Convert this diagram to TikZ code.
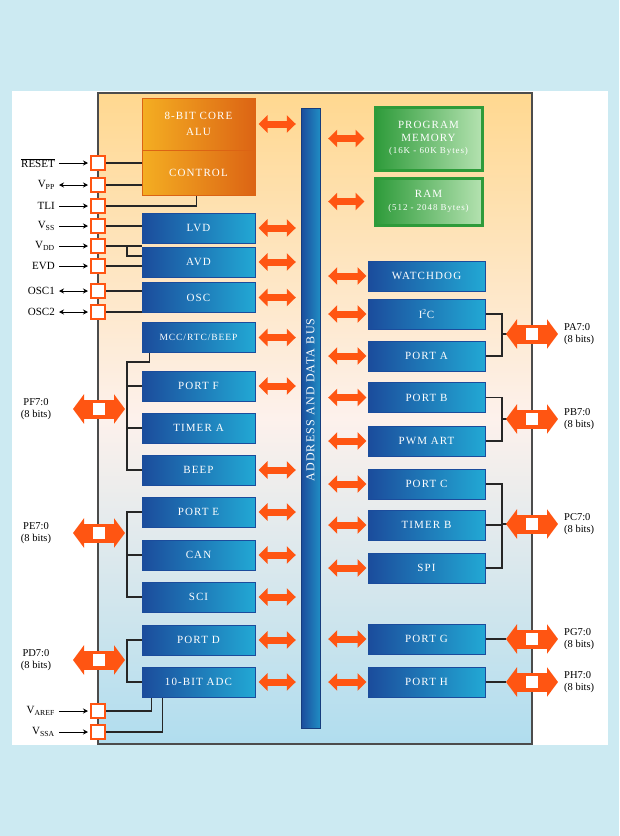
\documentclass[tikz,border=0pt]{standalone}
\usepackage{fontspec}
\setmainfont{Liberation Serif}
\newfontfamily\blkfont[LetterSpace=10]{Liberation Serif}
\usetikzlibrary{arrows.meta,calc}
\definecolor{bgblue}{HTML}{CCEAF2}
\definecolor{arrowor}{HTML}{FF5512}
\definecolor{blkdark}{HTML}{1B4C9C}
\definecolor{blklight}{HTML}{22A8D4}
\definecolor{chiptop}{HTML}{FFD890}
\definecolor{chipmid}{HTML}{FDF1EC}
\definecolor{chipbot}{HTML}{B0DDEE}
\definecolor{grdark}{HTML}{2E9B3A}
\definecolor{grlight}{HTML}{B4E2B0}
\definecolor{coreA}{HTML}{F4AE22}
\definecolor{coreB}{HTML}{DC6414}
\tikzset{
  chipbody/.style={draw=black!70,line width=1.5pt,top color=chiptop,bottom color=chipbot,
    middle color=chipmid,minimum width=434pt,minimum height=651pt,inner sep=0pt},
  busbar/.style={draw=blkdark!80!black,left color=blkdark,right color=blklight!70!blkdark,
    minimum width=19pt,minimum height=620pt,inner sep=0pt},
  blueblk/.style={draw=blkdark,line width=1pt,left color=blkdark,right color=blklight,
    text=white,font=\blkfont\fontsize{11}{12}\selectfont,minimum width=113pt,minimum height=30pt,inner sep=0pt},
  coreblk/.style={blueblk,draw=coreB,left color=coreA,right color=coreB},
  memblk/.style={blueblk,draw=grdark,line width=3pt,left color=grdark,right color=grlight,
    minimum width=107pt,align=center,font=\blkfont\fontsize{11}{12.5}\selectfont},
  busarrow/.style={draw=arrowor,line width=7pt,{Triangle[length=9pt,width=17pt]}-{Triangle[length=9pt,width=17pt]}},
  portarrow/.style={draw=arrowor,line width=19pt,{Triangle[length=11pt,width=29pt]}-{Triangle[length=11pt,width=29pt]}},
  portsq/.style={fill=white,minimum size=12pt,inner sep=0pt},
  pinsq/.style={draw=arrowor,line width=2pt,fill=white,minimum size=14pt,inner sep=0pt},
  pinlbl/.style={anchor=east,font=\fontsize{11}{12}\selectfont,inner sep=1pt},
  portlbl/.style={align=center,font=\fontsize{10.5}{12.5}\selectfont,inner sep=0pt},
  pinin/.style={line width=1pt,shorten <=3pt,shorten >=2pt,-{Stealth[length=5pt,width=5pt]}},
  pinio/.style={line width=1pt,shorten <=3pt,shorten >=2pt,{Stealth[length=5pt,width=5pt]}-{Stealth[length=5pt,width=5pt]}},
  wire/.style={line width=1.3pt,black!85}
}
\newcommand{\portio}[3]{%
  % name, x, y of the white square on the chip edge
  \coordinate (#1) at (#2,#3);
  \draw[portarrow] ([xshift=-26pt]#1) -- ([xshift=26pt]#1);
  \node[portsq] (#1sq) at (#1) {};
}

\begin{document}
\begin{tikzpicture}[x=1pt,y=-1pt]
  \useasboundingbox (0,0) rectangle (619,836);
  \fill[bgblue] (0,0) rectangle (619,836);
  \fill[white] (12,91) rectangle (608,745);
  \node[chipbody] (chip) at (315,418.5) {};
  \node[busbar] (bus) at (310.5,418) {};
  \node[rotate=90,text=white,font=\blkfont\fontsize{12}{12}\selectfont] (buslbl) at (310.5,400) {ADDRESS AND DATA BUS};

  \node[coreblk,minimum height=52pt,align=center,font=\blkfont\fontsize{11}{16}\selectfont] (core) at (198.5,124) {8-BIT CORE\\ALU};
  \node[coreblk,minimum height=45pt] (ctrl) at (198.5,172.5) {CONTROL};
  \node[memblk,minimum height=63pt] (prog) at (428.5,138.5) {PROGRAM\\MEMORY\\{\fontsize{9}{11}\selectfont(16K - 60K Bytes)}};
  \node[memblk,minimum height=47pt] (ram) at (428.5,201.5) {RAM\\{\fontsize{9}{11}\selectfont(512 - 2048 Bytes)}};
  \foreach \n/\t/\y in {lvd/LVD/228,avd/AVD/262,osc/OSC/297.5,mcc/{\fontsize{9.5}{10}\selectfont MCC/RTC/BEEP}/337.5,
      portf/PORT F/386,timera/TIMER A/428,beep/BEEP/470,porte/PORT E/512,can/CAN/555,sci/SCI/597,
      portd/PORT D/640,adc/10-BIT ADC/682}
    \node[blueblk] (\n) at (198.5,\y) {\t};
  \foreach \n/\t/\y in {wdog/WATCHDOG/276,iic/I\textsuperscript{2}C/314,porta/PORT A/356,portb/PORT B/397.5,
      pwm/PWM ART/441,portc/PORT C/484,timerb/TIMER B/525,spi/SPI/568,portg/PORT G/639,porth/PORT H/682}
    \node[blueblk,minimum width=117pt] (\n) at (426.5,\y) {\t};

  % bus connections
  \foreach \n in {core,lvd,avd,osc,mcc,portf,beep,porte,can,sci,portd,adc}
    \draw[busarrow,shorten <=3pt,shorten >=5pt] (\n.east) -- (\n.east -| bus.west);
  \foreach \n in {wdog,iic,porta,portb,pwm,portc,timerb,spi,portg,porth}
    \draw[busarrow,shorten <=8pt,shorten >=1pt] (\n.west -| bus.east) -- (\n.west);
  \foreach \n in {prog,ram}
    \draw[busarrow,shorten <=8pt,shorten >=9pt] (\n.west -| bus.east) -- (\n.west);

  % supply and control pins
  \foreach \n/\t/\y/\s in {rst/{$\overline{\hbox{RESET}}$}/163/pinin,vpp/{V\textsubscript{PP}}/185/pinio,
      tli/TLI/206/pinin,vss/{V\textsubscript{SS}}/226/pinin,vdd/{V\textsubscript{DD}}/246/pinin,
      evd/EVD/266/pinin,osca/OSC1/291/pinio,oscb/OSC2/312/pinio,
      vref/{V\textsubscript{AREF}}/711/pinin,vssa/{V\textsubscript{SSA}}/732/pinin}{
    \node[pinlbl] (\n-l) at (56,\y) {\t};
    \node[pinsq] (\n) at (98,\y) {};
    \draw[\s] (\n-l.east) -- (\n.west);
  }
  \draw[wire] (rst.east) -- (rst.east -| ctrl.west);
  \draw[wire] (vpp.east) -- (vpp.east -| ctrl.west);
  \draw[wire] (tli.east) -| ([xshift=-2pt]ctrl.south);
  \draw[wire] (vss.east) -- (vss.east -| lvd.west);
  \coordinate (vddk) at (127,246);
  \draw[wire] (vdd.east) -- (vdd.east -| lvd.west);
  \draw[wire] (vddk) |- ([yshift=6pt]avd.west);
  \draw[wire] (evd.east) -- (evd.east -| avd.west);
  \draw[wire] (osca.east) -- (osca.east -| osc.west);
  \draw[wire] (oscb.east) -- (oscb.east -| osc.west);
  \draw[wire] (vref.east) -| ([xshift=10pt]adc.south west);
  \draw[wire] (vssa.east) -| ([xshift=21pt]adc.south west);

  % port groups
  \coordinate (lbar) at (127,0);
  \coordinate (rbar) at (502,0);
  \draw[wire] ([xshift=8pt]mcc.south west) -- ++(0,9) -| (lbar |- beep.west) -- (beep.west);
  \foreach \n in {portf,timera}
    \draw[wire] (lbar |- \n.west) -- (\n.west);
  \draw[wire] (porte.west) -| (lbar |- sci.west) -- (sci.west);
  \draw[wire] (lbar |- can.west) -- (can.west);
  \draw[wire] (portd.west) -| (lbar |- adc.west) -- (adc.west);
  \draw[wire] (iic.east) -| (rbar |- porta.east) -- (porta.east);
  \draw[wire] (portb.east) -| (rbar |- pwm.east) -- (pwm.east);
  \draw[wire] (portc.east) -| (rbar |- spi.east) -- (spi.east);
  \draw[wire] (timerb.east) -- (rbar |- timerb.east);

  \portio{pf}{99}{409}
  \portio{pe}{99}{533}
  \portio{pd}{99}{660}
  \draw[wire] (rbar |- 0,334) -- (507,334);
  \portio{pa}{532}{334}
  \draw[wire] (rbar |- 0,419) -- (507,419);
  \portio{pb}{532}{419}
  \draw[wire] (rbar |- 0,524) -- (507,524);
  \portio{pc}{532}{524}
  \draw[wire] (portg.east) -- ++(20,0);
  \portio{pg}{532}{639}
  \draw[wire] (porth.east) -- ++(20,0);
  \portio{ph}{532}{682}

  \node[portlbl] (pf-l) at (36,409) {PF7:0\\(8 bits)};
  \node[portlbl] (pe-l) at (36,533) {PE7:0\\(8 bits)};
  \node[portlbl] (pd-l) at (36,660) {PD7:0\\(8 bits)};
  \foreach \n/\t/\y in {pa/PA7:0/334,pb/PB7:0/419,pc/PC7:0/524,pg/PG7:0/639,ph/PH7:0/682}
    \node[portlbl,anchor=west,align=left] (\n-l) at (564,\y) {\t\\(8 bits)};
\end{tikzpicture}
\end{document}
